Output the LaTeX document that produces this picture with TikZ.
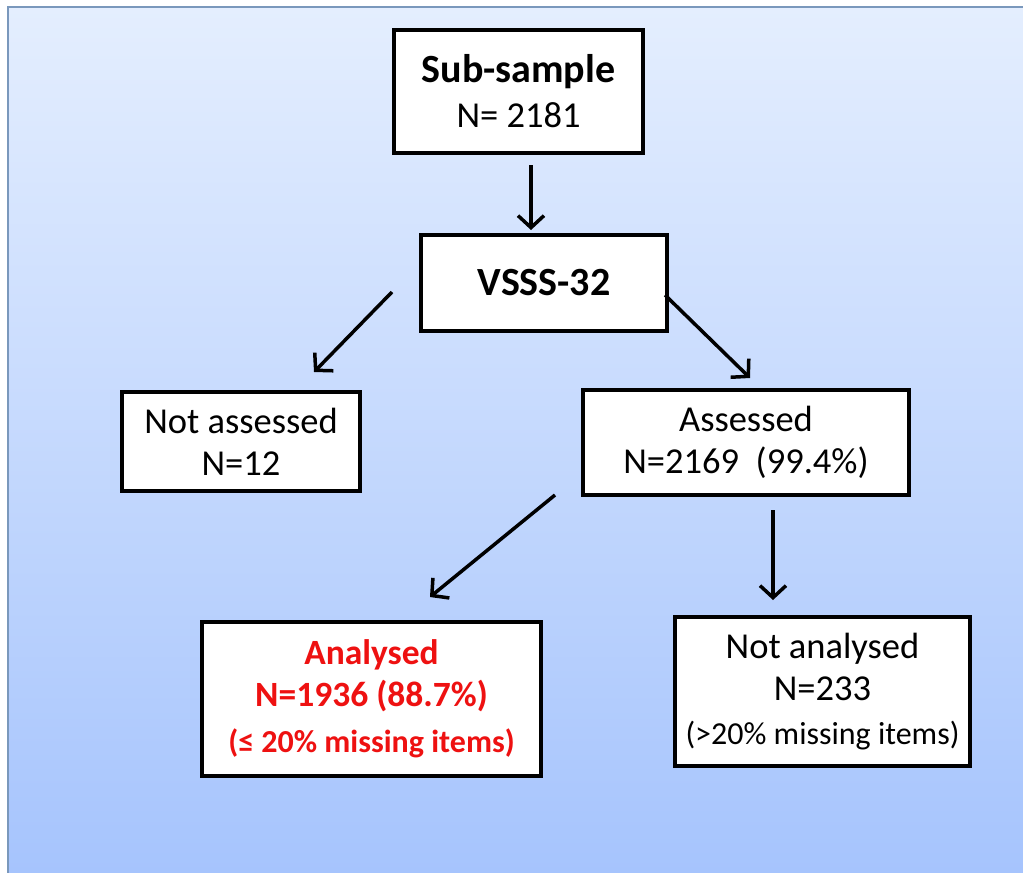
\documentclass[tikz,border=0pt]{standalone}
\usepackage{fontspec}
\setmainfont{Carlito}
\usetikzlibrary{arrows.meta}
\definecolor{bgtop}{HTML}{E4EEFE}
\definecolor{bgbot}{HTML}{A6C4FD}
\definecolor{frame}{HTML}{7A98BC}
\definecolor{redtxt}{HTML}{EE1111}
\tikzset{
  box/.style={draw=black, line width=4pt, fill=white, rectangle, align=center, inner sep=0pt},
  big/.style={font=\fontsize{36.5}{42}\selectfont},
  redbig/.style={font=\fontsize{35.5}{42}\selectfont\bfseries, text=redtxt},
  arr/.style={line width=3.5pt, -{Straight Barb[length=12pt,width=26pt,line width=3.5pt]}}
}
\newcommand{\smallline}{\fontsize{32}{38}\selectfont}
\newcommand{\boldbig}{\fontsize{40}{46}\selectfont\bfseries}
\begin{document}
\begin{tikzpicture}[x=1pt,y=-1pt]
\useasboundingbox (0,0) rectangle (1023,873);
\shade[top color=bgtop, bottom color=bgbot] (8,7) rectangle (1023,873);
\draw[frame, line width=2pt] (8,873) -- (8,7) -- (1023,7);

\node[box, big, minimum width=249pt, minimum height=123pt] (sub) at (518.5,91.5)
  {{\boldbig Sub-sample}\\[3pt]N= 2181};
\node[box, big, minimum width=246pt, minimum height=96pt] (vsss) at (544,283)
  {{\boldbig VSSS-32}};
\node[box, big, minimum width=238pt, minimum height=99pt] (nass) at (241,441.5)
  {Not assessed\\N=12};
\node[box, big, minimum width=326pt, minimum height=105pt] (ass) at (746,442.5)
  {Assessed\\N=2169\ \ (99.4\%)};
\node[box, redbig, minimum width=339pt, minimum height=154pt] (ana) at (371.5,699)
  {Analysed\\N=1936 (88.7\%)\\[4pt]{\smallline (≤ 20\% missing items)}};
\node[box, big, minimum width=295pt, minimum height=149pt] (nana) at (822.5,691.5)
  {Not analysed\\N=233\\[2pt]{\smallline (>20\% missing items)}};

\coordinate (a1s) at (531,165); \coordinate (a1e) at (531,230);
\coordinate (a2s) at (392,292); \coordinate (a2e) at (314,372);
\coordinate (a3s) at (665,295); \coordinate (a3e) at (750,378);
\coordinate (a4s) at (555,495); \coordinate (a4e) at (430,597);
\coordinate (a5s) at (773,510); \coordinate (a5e) at (773,600);

\draw[arr] (a1s) -- (a1e);
\draw[arr] (a2s) -- (a2e);
\draw[arr] (a3s) -- (a3e);
\draw[arr] (a4s) -- (a4e);
\draw[arr] (a5s) -- (a5e);
\end{tikzpicture}
\end{document}
